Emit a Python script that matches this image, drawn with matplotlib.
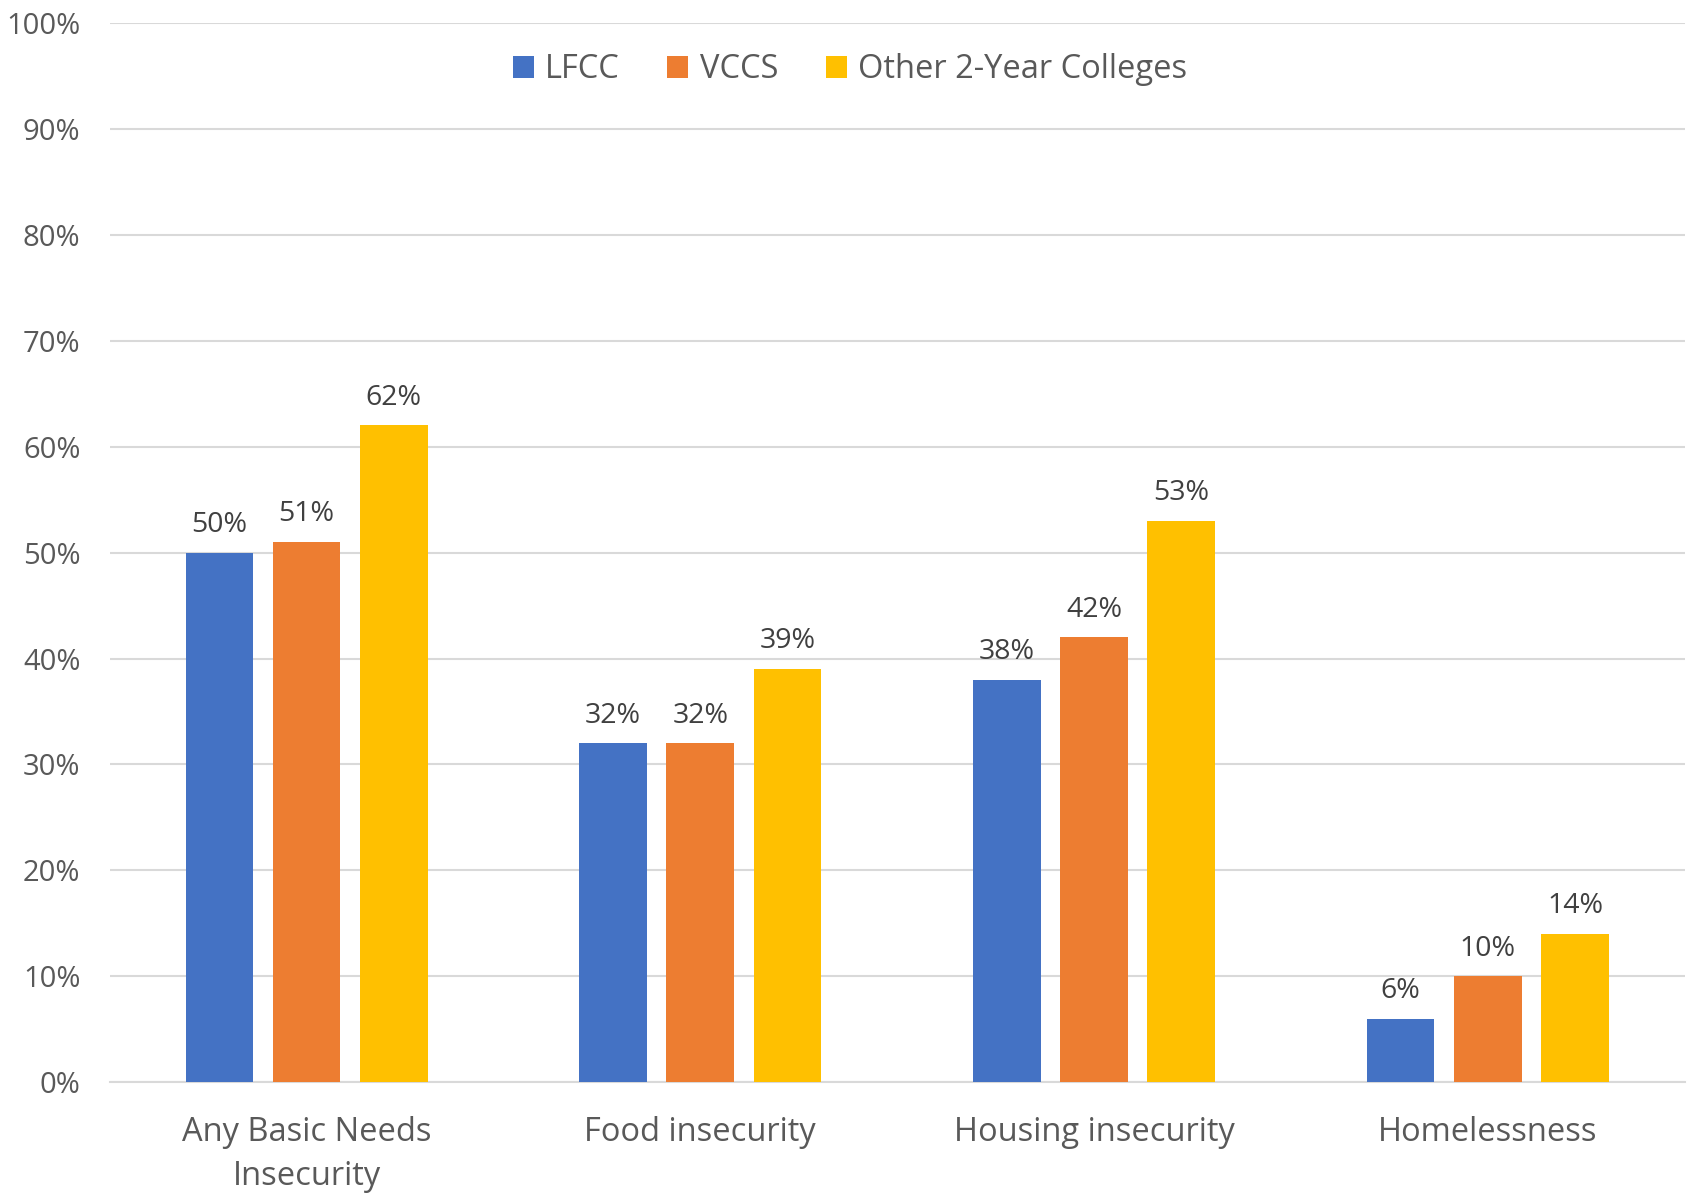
import numpy as np
import matplotlib.pyplot as plt
from matplotlib.ticker import FuncFormatter

# values (percent)
categories = ["Any Basic Needs\nInsecurity", "Food insecurity", "Housing insecurity", "Homelessness"]
series_names = ["LFCC", "VCCS", "Other 2-Year Colleges"]
lfcc = [50, 32, 38, 6]
vccs = [51, 32, 42, 10]
other = [62, 39, 53, 14]

colors = ["#4472C4", "#ED7D31", "#FFC000"]
text_col = "#595959"

plt.rcParams['font.family'] = ['Open Sans', 'DejaVu Sans']

fig = plt.figure(figsize=(16.88, 11.96), dpi=100)
ax = fig.add_axes([0.065, 0.095, 0.933, 0.886])

x = np.arange(len(categories))
width = 0.172
step = 0.2215
for i, (name, vals) in enumerate(zip(series_names, [lfcc, vccs, other])):
    bars = ax.bar(x + (i - 1) * step, vals, width, color=colors[i], label=name, zorder=3)
    for b, v in zip(bars, vals):
        ax.text(b.get_x() + b.get_width() / 2, v + 1.3, f"{v}%", ha="center", va="bottom",
                fontsize=20.5, color="#404040")

ax.set_xlim(-0.5, len(categories) - 0.5)
ax.set_ylim(0, 100)
ax.set_yticks(range(0, 101, 10))
ax.yaxis.set_major_formatter(FuncFormatter(lambda v, p: f"{int(v)}%"))
ax.grid(axis="y", color="#d9d9d9", linewidth=1.5, zorder=0)
ax.set_xticks(x)
ax.set_xticklabels(categories, fontsize=23.5, color=text_col, linespacing=1.45)
ax.tick_params(axis="y", labelsize=21, labelcolor=text_col, length=0, pad=21)
ax.tick_params(axis="x", length=0, pad=24)
for s in ["top", "right", "left"]:
    ax.spines[s].set_visible(False)
ax.spines["bottom"].set_color("#d9d9d9")
ax.spines["bottom"].set_linewidth(1.5)

ax.legend(loc="upper center", bbox_to_anchor=(0.47, 0.999), ncol=3, frameon=False,
          fontsize=23.5, labelcolor=text_col, handlelength=0.65, handleheight=0.65,
          handletextpad=0.35, columnspacing=1.45)

fig.savefig("out.png", dpi=100)
